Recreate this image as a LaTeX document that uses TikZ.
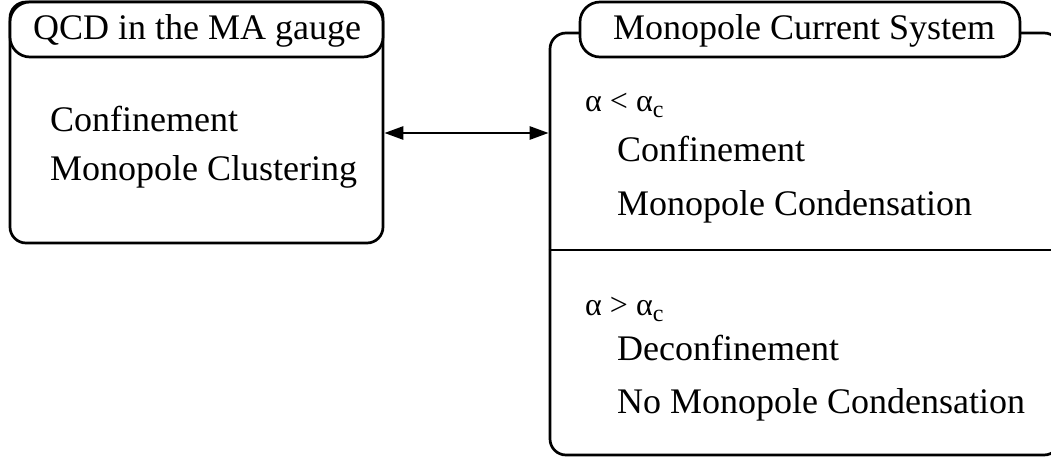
\documentclass[tikz,border=0pt]{standalone}
\usepackage{fontspec}
\setmainfont{Liberation Serif}
\usetikzlibrary{arrows.meta, positioning, calc}
\definecolor{colBorder}{RGB}{0,0,0}
\tikzset{
  outerBox/.style={
    rectangle, rounded corners=16pt,
    draw=colBorder, line width=2.7pt, fill=white,
    inner sep=0pt
  },
  titleBox/.style={
    rectangle, rounded corners=20pt,
    draw=colBorder, line width=2.7pt, fill=white,
    inner sep=0pt, font=\fontsize{36}{40}\selectfont
  },
  txt/.style={
    anchor=base west, inner sep=0pt, font=\fontsize{36}{40}\selectfont
  },
  cond/.style={
    anchor=base west, inner sep=0pt, font=\fontsize{32}{36}\selectfont
  },
  arr/.style={
    {Triangle[length=19pt, width=13pt]}-{Triangle[length=19pt, width=13pt]},
    line width=2.7pt, color=colBorder
  }
}
\newcommand{\subc}{\raisebox{-6pt}{\fontsize{24}{28}\selectfont c}}

\begin{document}
\begin{tikzpicture}[x=1pt, y=-1pt]
  \useasboundingbox (0,0) rectangle (1051,457);

  % left box
  \node[outerBox, minimum width=373pt, minimum height=241pt] (qcd) at (196.5,122.5) {};
  \node[titleBox, minimum width=373pt, minimum height=55pt] (qcdtitle) at (196.5,29.5) {};
  \node[txt] (qcdname) at (33,40) {QCD in the MA gauge};
  \node[txt] (qcdconf) at (50,132) {Confinement};
  \node[txt] (qcdclus) at (50,180) {Monopole Clustering};

  % right box
  \node[outerBox, minimum width=510pt, minimum height=422pt] (mcs) at (805,244) {};
  \node[titleBox, minimum width=440pt, minimum height=55pt] (mcstitle) at (800,29.5) {};
  \node[txt] (mcsname) at (613,40) {Monopole Current System};
  \draw[line width=2.7pt, color=colBorder] (mcs.west |- 0,250) -- (mcs.east |- 0,250);

  % below alpha_c
  \node[cond] (lowcond) at (585,112) {α < α\subc};
  \node[txt] (lowconf) at (617,162) {Confinement};
  \node[txt] (lowcond2) at (617,215) {Monopole Condensation};

  % above alpha_c
  \node[cond] (highcond) at (585,315) {α > α\subc};
  \node[txt] (highconf) at (617,360) {Deconfinement};
  \node[txt] (highcond2) at (617,413) {No Monopole Condensation};

  % correspondence
  \coordinate (arrl) at ($(qcd.east)+(0,10.5)$);
  \draw[arr] (arrl) -- (arrl -| mcs.west);

\end{tikzpicture}
\end{document}
